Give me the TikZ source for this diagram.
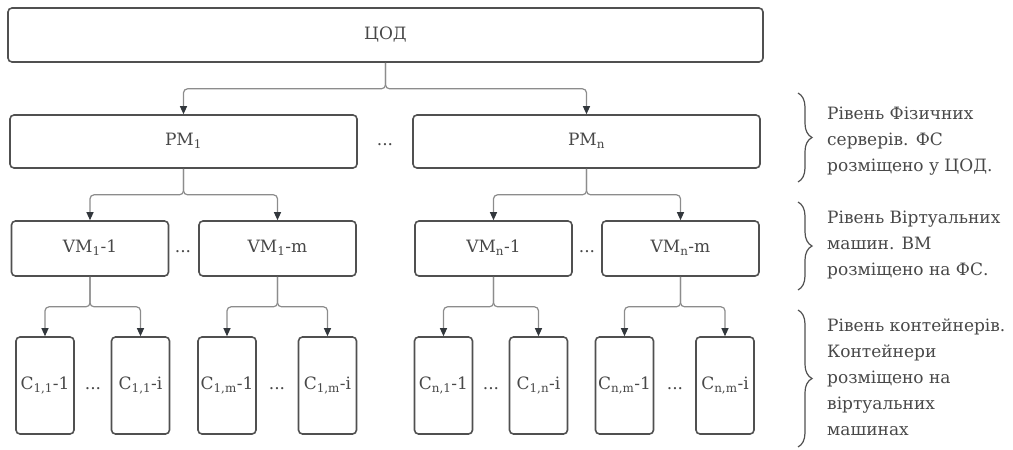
\documentclass[tikz,border=0pt]{standalone}
\usepackage{fontspec}
\setmainfont{DejaVu Serif}
\usepackage{tikz}
\usetikzlibrary{arrows.meta, decorations.pathreplacing}
\definecolor{boxline}{RGB}{80, 80, 80}
\definecolor{linkgray}{RGB}{140, 140, 140}
\definecolor{tipgray}{RGB}{50, 55, 60}
\definecolor{txtgray}{RGB}{72, 72, 72}

\begin{document}
\begin{tikzpicture}[x=1pt, y=-1pt, font=\fontsize{17}{26}\selectfont, text=txtgray,
  box/.style={draw=boxline, line width=1.6pt, rounded corners=4pt, inner sep=0pt, text height=12pt, text depth=3.5pt},
  pmbox/.style={box, minimum width=347pt, minimum height=53pt},
  vmbox/.style={box, minimum width=157pt, minimum height=55pt},
  cbox/.style={box, minimum width=58pt, minimum height=97pt},
  gap/.style={inner sep=0pt, text height=12pt, text depth=3.5pt},
  link/.style={draw=linkgray, line width=1.2pt, rounded corners=4pt, -{Triangle[length=8pt, width=7pt, color=tipgray]}},
  lvl/.style={align=left, anchor=west, inner sep=0pt}]
  \useasboundingbox (0,0) rectangle (1013,450);

  \node[box, minimum width=755pt, minimum height=54pt] (cod) at (385.5,35) {ЦОД};

  \node[pmbox] (pm1) at (183.5,141.5) {PM\textsubscript{1}};
  \node[pmbox] (pmn) at (586.5,141.5) {PM\textsubscript{n}};
  \node[gap] (dpm) at (385,141.5) {...};

  \node[vmbox] (vm11) at (90,248.5) {VM\textsubscript{1}-1};
  \node[vmbox] (vm1m) at (277.5,248.5) {VM\textsubscript{1}-m};
  \node[vmbox] (vmn1) at (493.5,248.5) {VM\textsubscript{n}-1};
  \node[vmbox] (vmnm) at (680.5,248.5) {VM\textsubscript{n}-m};
  \node[gap] (dvm1) at (183,248.5) {...};
  \node[gap] (dvmn) at (587,248.5) {...};

  \node[cbox] (c111) at (45,385.5) {C\textsubscript{1,1}-1};
  \node[cbox] (c11i) at (140.5,385.5) {C\textsubscript{1,1}-i};
  \node[cbox] (c1m1) at (227,385.5) {C\textsubscript{1,m}-1};
  \node[cbox] (c1mi) at (327.5,385.5) {C\textsubscript{1,m}-i};
  \node[cbox] (cn11) at (443.5,385.5) {C\textsubscript{n,1}-1};
  \node[cbox] (cn1i) at (538.5,385.5) {C\textsubscript{1,n}-i};
  \node[cbox] (cnm1) at (624.5,385.5) {C\textsubscript{n,m}-1};
  \node[cbox] (cnmi) at (725,385.5) {C\textsubscript{n,m}-i};
  \node[gap] (dc11) at (93,385.5) {...};
  \node[gap] (dc1m) at (277,385.5) {...};
  \node[gap] (dcn1) at (491,385.5) {...};
  \node[gap] (dcnm) at (675,385.5) {...};

  \draw[link] (cod.south) -- ++(0,26) -| (pm1.north);
  \draw[link] (cod.south) -- ++(0,26) -| (pmn.north);
  \draw[link] (pm1.south) -- ++(0,26) -| (vm11.north);
  \draw[link] (pm1.south) -- ++(0,26) -| (vm1m.north);
  \draw[link] (pmn.south) -- ++(0,26) -| (vmn1.north);
  \draw[link] (pmn.south) -- ++(0,26) -| (vmnm.north);
  \draw[link] (vm11.south) -- ++(0,30) -| (c111.north);
  \draw[link] (vm11.south) -- ++(0,30) -| (c11i.north);
  \draw[link] (vm1m.south) -- ++(0,30) -| (c1m1.north);
  \draw[link] (vm1m.south) -- ++(0,30) -| (c1mi.north);
  \draw[link] (vmn1.south) -- ++(0,30) -| (cn11.north);
  \draw[link] (vmn1.south) -- ++(0,30) -| (cn1i.north);
  \draw[link] (vmnm.south) -- ++(0,30) -| (cnm1.north);
  \draw[link] (vmnm.south) -- ++(0,30) -| (cnmi.north);

  \draw[boxline, line width=1.2pt, decorate, decoration={brace, amplitude=14pt}] (798,93) -- (798,182);
  \draw[boxline, line width=1.2pt, decorate, decoration={brace, amplitude=14pt}] (798,202) -- (798,290);
  \draw[boxline, line width=1.2pt, decorate, decoration={brace, amplitude=14pt}] (798,310) -- (798,447);
  \node[lvl] (lvlpm) at (827,141) {Рівень Фізичних\\серверів. ФС\\розміщено у ЦОД.};
  \node[lvl] (lvlvm) at (827,245) {Рівень Віртуальних\\машин. ВМ\\розміщено на ФС.};
  \node[lvl] (lvlc) at (827,377) {Рівень контейнерів.\\Контейнери\\розміщено на\\віртуальних\\машинах};
\end{tikzpicture}
\end{document}
